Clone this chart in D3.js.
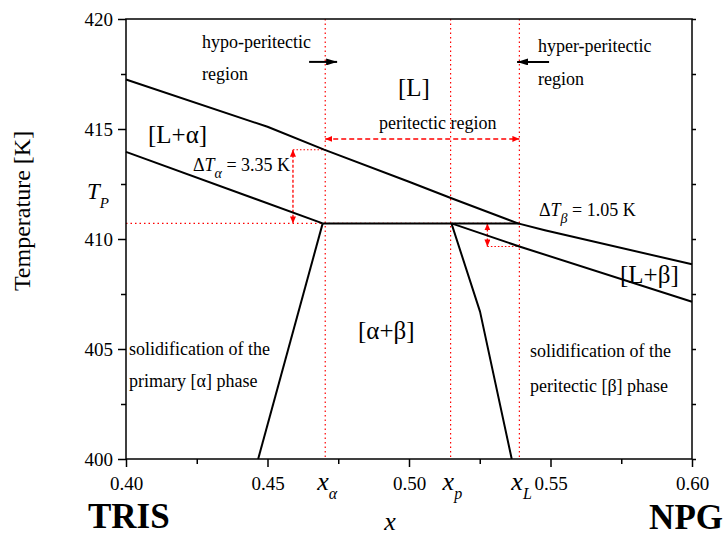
<!DOCTYPE html>
<html><head><meta charset="utf-8">
<script src="https://cdn.jsdelivr.net/npm/d3@7/dist/d3.min.js"></script>
<style>
body{margin:0;background:#fff;}
svg, svg text, svg tspan{font-family:"Liberation Serif";}
</style></head>
<body><svg id="c" width="724" height="538" font-family="Liberation Serif"></svg>
<script>
// ---- data ----
const xTicks = [0.40, 0.45, 0.50, 0.55, 0.60];
const xMinorTicks = [0.425, 0.475, 0.525, 0.575];
const yTicks = [400, 405, 410, 415, 420];
const yMinorTicks = [402.5, 407.5, 412.5, 417.5];
const liquidusX = [0.40, 0.45, 0.47, 0.50, 0.515, 0.5385, 0.548, 0.60];
const liquidusT = [417.25, 415.1, 414.06, 412.6, 411.85, 410.71, 410.4, 408.85];
const solidusAlphaX = [0.40, 0.4695];
const solidusAlphaT = [413.96, 410.71];
const solidusBetaX = [0.515, 0.539, 0.60];
const solidusBetaT = [410.71, 409.66, 407.15];
const solvusAlphaX = [0.4695, 0.4467];
const solvusAlphaT = [410.71, 400];
const solvusBetaX = [0.515, 0.5251, 0.5363];
const solvusBetaT = [410.71, 406.7, 400];
const peritecticX = [0.4695, 0.539];
const TP = 410.71;
const markerX = [0.4704, 0.5147, 0.539]; // x_alpha, x_p, x_L
const markerSub = ["α", "p", "L"];
const dTalpha = {x: 0.459, top: 414.06, bottom: 410.71};
const dTbeta = {x: 0.5277, top: 410.71, bottom: 409.66};
const periArrowT = 414.55;
const blackArrowT = 418.05;
const hypoArrow = [0.4647, 0.4746];
const hyperArrow = [0.5495, 0.5382];

// ---- chart ----
const FONT = "Liberation Serif";
const svg = d3.select("#c");
const m = {l:126, r:692, t:19, b:459};
const x = d3.scaleLinear().domain([0.40, 0.60]).range([m.l, m.r]);
const y = d3.scaleLinear().domain([400, 420]).range([m.b, m.t]);

const defs = svg.append("defs");
function marker(id, color, w, h) {
  defs.append("marker").attr("id", id).attr("viewBox", `0 0 ${w} ${h}`)
    .attr("refX", w).attr("refY", h/2).attr("markerWidth", w).attr("markerHeight", h)
    .attr("markerUnits", "userSpaceOnUse").attr("orient", "auto-start-reverse")
    .append("path").attr("d", `M0,0L${w},${h/2}L0,${h}Z`).attr("fill", color);
}
marker("ab", "black", 11, 7);
marker("ar", "red", 7, 6);

const red = "red";
markerX.forEach(v => {
  svg.append("line").attr("x1", x(v)).attr("x2", x(v)).attr("y1", y(420)).attr("y2", y(400))
    .attr("stroke", red).attr("stroke-width", 1.2).attr("stroke-dasharray", "1.5,3");
});
svg.append("line").attr("x1", x(0.40)).attr("x2", x(markerX[2])).attr("y1", y(TP)).attr("y2", y(TP))
  .attr("stroke", red).attr("stroke-width", 1.2).attr("stroke-dasharray", "1.5,3");
svg.append("line").attr("x1", x(dTalpha.x)).attr("x2", x(markerX[0])).attr("y1", y(dTalpha.top)).attr("y2", y(dTalpha.top))
  .attr("stroke", red).attr("stroke-width", 1.1).attr("stroke-dasharray", "1.5,2");
svg.append("line").attr("x1", x(dTbeta.x)).attr("x2", x(markerX[2])).attr("y1", y(dTbeta.bottom)).attr("y2", y(dTbeta.bottom))
  .attr("stroke", red).attr("stroke-width", 1.1).attr("stroke-dasharray", "1.5,2");
[dTalpha, dTbeta].forEach(d => {
  svg.append("line").attr("x1", x(d.x)).attr("x2", x(d.x)).attr("y1", y(d.top)).attr("y2", y(d.bottom))
    .attr("stroke", red).attr("stroke-width", 1.3).attr("stroke-dasharray", "3,2")
    .attr("marker-start", "url(#ar)").attr("marker-end", "url(#ar)");
});
svg.append("line").attr("x1", x(markerX[0])).attr("x2", x(markerX[2])).attr("y1", y(periArrowT)).attr("y2", y(periArrowT))
  .attr("stroke", red).attr("stroke-width", 1.5).attr("stroke-dasharray", "5,3")
  .attr("marker-start", "url(#ar)").attr("marker-end", "url(#ar)");
[hypoArrow, hyperArrow].forEach(a => {
  svg.append("line").attr("x1", x(a[0])).attr("x2", x(a[1])).attr("y1", y(blackArrowT)).attr("y2", y(blackArrowT))
    .attr("stroke", "black").attr("stroke-width", 2).attr("marker-end", "url(#ab)");
});

// phase boundaries
const line = d3.line().x(d => x(d[0])).y(d => y(d[1]));
function curve(xs, ts) {
  svg.append("path").attr("d", line(xs.map((v, i) => [v, ts[i]])))
    .attr("fill", "none").attr("stroke", "black").attr("stroke-width", 2).attr("stroke-linejoin", "round");
}
curve(liquidusX, liquidusT);
curve(solidusAlphaX, solidusAlphaT);
curve(solidusBetaX, solidusBetaT);
curve(solvusAlphaX, solvusAlphaT);
curve(solvusBetaX, solvusBetaT);
curve(peritecticX, [TP, TP]);

svg.append("rect").attr("x", m.l).attr("y", m.t).attr("width", m.r - m.l).attr("height", m.b - m.t)
  .attr("fill", "none").attr("stroke", "black").attr("stroke-width", 1.5);

const xAxis = svg.append("g").attr("transform", `translate(0,${m.b})`)
  .call(d3.axisBottom(x).tickValues(xTicks).tickSize(8).tickFormat(d3.format(".2f")));
const xMinor = svg.append("g").attr("transform", `translate(0,${m.b})`)
  .call(d3.axisBottom(x).tickValues(xMinorTicks).tickSize(5).tickFormat(""));
const yAxis = svg.append("g").attr("transform", `translate(${m.l},0)`)
  .call(d3.axisLeft(y).tickValues(yTicks).tickSize(8).tickFormat(d3.format("d")));
const yMinor = svg.append("g").attr("transform", `translate(${m.l},0)`)
  .call(d3.axisLeft(y).tickValues(yMinorTicks).tickSize(5).tickFormat(""));
const yRight = svg.append("g").attr("transform", `translate(${m.r},0)`)
  .call(d3.axisLeft(y).tickValues(yTicks.concat(yMinorTicks)).tickSize(-4).tickFormat(""));
[xAxis, xMinor, yAxis, yMinor, yRight].forEach(g => {
  g.attr("font-family", FONT);
  g.select(".domain").remove();
  g.selectAll("line").attr("stroke", "black").attr("stroke-width", 1.5);
});
xAxis.selectAll("text").attr("font-family", FONT).attr("font-size", 19).attr("dy", null).attr("y", 31);
yAxis.selectAll("text").attr("font-family", FONT).attr("font-size", 19).attr("x", -13).attr("dy", "0.35em");

function txt(x0, y0, s, size, opts = {}) {
  const t = svg.append("text").attr("font-family", FONT).attr("x", x0).attr("y", y0).attr("font-size", size);
  if (opts.anchor) t.attr("text-anchor", opts.anchor);
  if (opts.weight) t.attr("font-weight", opts.weight);
  if (opts.italic) t.attr("font-style", "italic");
  t.text(s);
  return t;
}
function subText(x0, y0, main, sub, rest, size, subSize, dy) {
  const t = svg.append("text").attr("font-family", FONT).attr("x", x0).attr("y", y0).attr("font-size", size);
  const pre = main.startsWith("Δ") ? "Δ" : "";
  if (pre) t.append("tspan").text(pre);
  t.append("tspan").attr("font-style", "italic").text(main.replace("Δ", ""));
  t.append("tspan").attr("font-style", "italic").attr("font-size", subSize).attr("dy", dy).text(sub);
  if (rest) t.append("tspan").attr("dy", -dy).text(rest);
  return t;
}

txt(202, 48, "hypo-peritectic", 18);
txt(202, 80, "region", 18);
txt(538, 52, "hyper-peritectic", 18);
txt(538, 85, "region", 18);
txt(398, 95.5, "[L]", 25);
txt(379, 129, "peritectic region", 18);
txt(148, 143, "[L+α]", 25);
txt(358, 338.5, "[α+β]", 25);
txt(620, 283, "[L+β]", 25);
subText(193, 171, "ΔT", "α", " = 3.35 K", 18, 14, 7);
subText(539, 216, "ΔT", "β", " = 1.05 K", 18, 14, 7);
subText(87, 199, "T", "P", "", 23, 15, 9);
txt(129, 355, "solidification of the", 18);
txt(129, 387, "primary [α] phase", 18);
txt(530, 357, "solidification of the", 18);
txt(530, 392, "peritectic [β] phase", 18);

markerX.forEach((v, i) => {
  subText(x(v) - 8, 490, "x", markerSub[i], "", 26, 16, 9);
});

txt(88, 528, "TRIS", 35, {weight: "bold"});
txt(723, 529, "NPG", 35, {weight: "bold", anchor: "end"});
txt(390, 530, "x", 26, {italic: true, anchor: "middle"});
svg.append("text").attr("font-family", FONT).attr("transform", "translate(30,211) rotate(-90)").attr("text-anchor", "middle")
  .attr("font-size", 24).text("Temperature [K]");
</script></body></html>
